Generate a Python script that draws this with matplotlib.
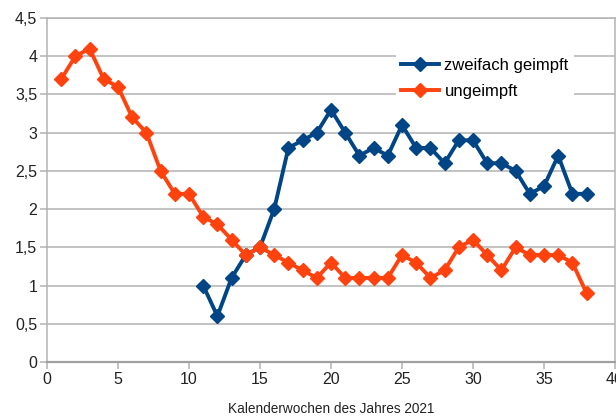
import matplotlib.pyplot as plt
from matplotlib.ticker import FuncFormatter, MultipleLocator

# Kalenderwochen und Werte
weeks_unvacc = list(range(1, 39))
unvacc = [3.7, 4.0, 4.1, 3.7, 3.6, 3.2, 3.0, 2.5, 2.2, 2.2,
          1.9, 1.8, 1.6, 1.4, 1.5, 1.4, 1.3, 1.2, 1.1, 1.3,
          1.1, 1.1, 1.1, 1.1, 1.4, 1.3, 1.1, 1.2, 1.5, 1.6,
          1.4, 1.2, 1.5, 1.4, 1.4, 1.4, 1.3, 0.9]

weeks_vacc = list(range(11, 39))
vacc = [1.0, 0.6, 1.1, 1.4, 1.5, 2.0, 2.8, 2.9, 3.0, 3.3,
        3.0, 2.7, 2.8, 2.7, 3.1, 2.8, 2.8, 2.6, 2.9, 2.9,
        2.6, 2.6, 2.5, 2.2, 2.3, 2.7, 2.2, 2.2]

plt.rcParams['font.family'] = ['Liberation Sans', 'DejaVu Sans']

fig = plt.figure(figsize=(6.16, 4.16), dpi=100)
ax = fig.add_axes([47 / 616, 1 - 362 / 416, 568 / 616, 344 / 416])

blue = '#004586'
orange = '#ff420e'

ax.plot(weeks_vacc, vacc, color=blue, lw=2.8, marker='D', ms=7,
        label='zweifach geimpft', zorder=3)
ax.plot(weeks_unvacc, unvacc, color=orange, lw=2.8, marker='D', ms=7,
        label='ungeimpft', zorder=3)

ax.set_xlim(0, 40)
ax.set_ylim(0, 4.5)
ax.xaxis.set_major_locator(MultipleLocator(5))
ax.yaxis.set_major_locator(MultipleLocator(0.5))
comma = FuncFormatter(lambda v, p: f'{v:g}'.replace('.', ','))
ax.xaxis.set_major_formatter(comma)
ax.yaxis.set_major_formatter(comma)

ax.grid(axis='y', color='#b3b3b3', lw=1.1)
ax.set_axisbelow(True)
for side in ['left', 'right', 'top']:
    ax.spines[side].set_color('#b3b3b3')
    ax.spines[side].set_linewidth(1.1)
ax.spines['bottom'].set_color('#a0a0a0')
ax.spines['bottom'].set_linewidth(1.6)
ax.tick_params(axis='both', length=5, width=1.1, color='#b3b3b3',
               labelsize=11.5, labelcolor='#222222', pad=2)

ax.set_xlabel('Kalenderwochen des Jahres 2021', fontsize=9.8,
              color='#222222', labelpad=11)

leg = ax.legend(loc='upper left', bbox_to_anchor=(0.6, 0.923), frameon=True,
                fontsize=12, handlelength=2.3, borderpad=0.3,
                labelspacing=0.65, handletextpad=0.3)
leg.get_frame().set_edgecolor('none')
leg.get_frame().set_facecolor('white')
leg.get_frame().set_alpha(1)

fig.savefig('out.png', dpi=100)
